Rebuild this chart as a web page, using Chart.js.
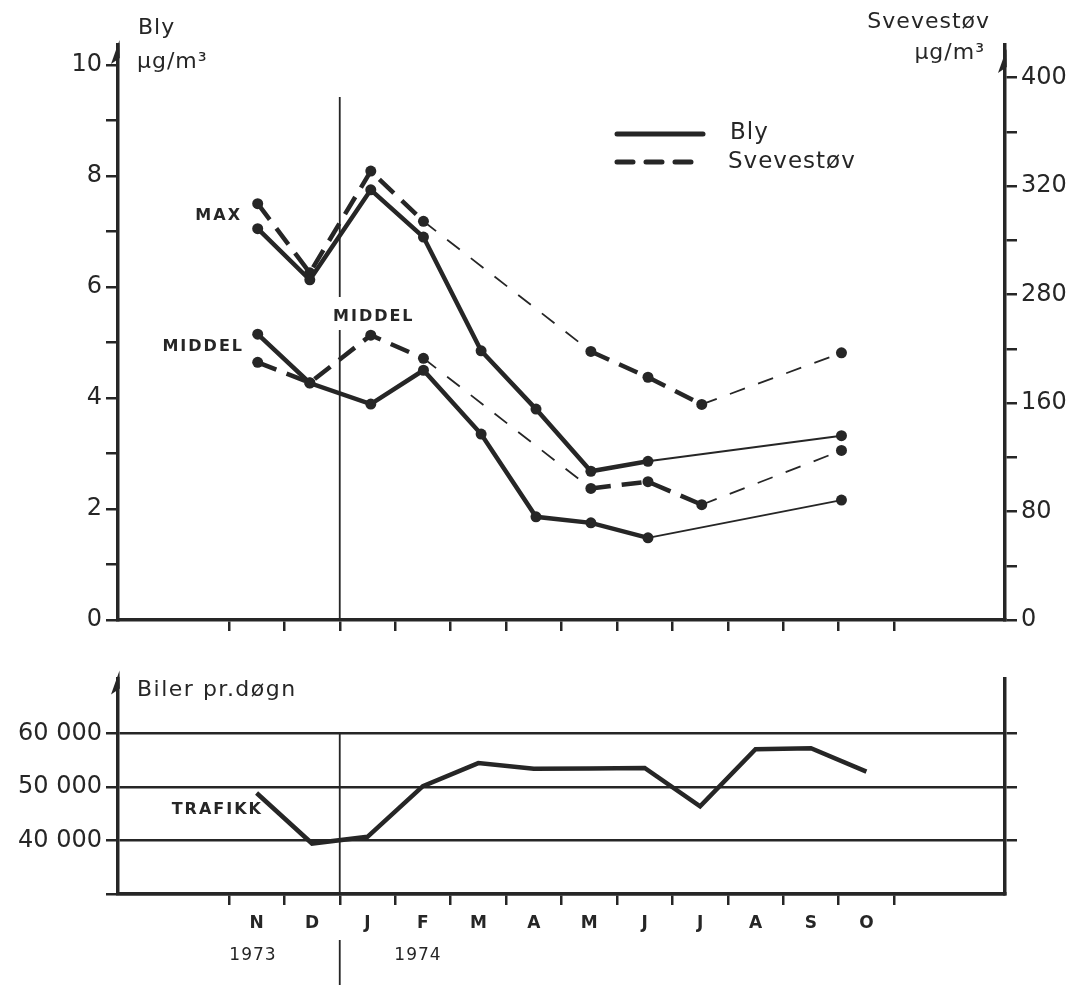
<!DOCTYPE html>
<html>
<head>
<meta charset="utf-8">
<script src="https://cdn.jsdelivr.net/npm/chart.js@4"></script>
<style>
  body { margin: 0; background: #fff; }
  #wrap { position: relative; width: 1080px; height: 985px; }
  canvas { position: absolute; left: 0; }
  #top { top: 0; }
  #bottom { top: 660px; }
</style>
</head>
<body>
<div id="wrap">
  <canvas id="top" width="1080" height="660"></canvas>
  <canvas id="bottom" width="1080" height="325"></canvas>
</div>
<script>
// months counted from the 1973/1974 boundary (0 = 1 Jan 1974)
const months = ['N', 'D', 'J', 'F', 'M', 'A', 'M', 'J', 'J', 'A', 'S', 'O'];
const monthCenters = [-1.5, -0.5, 0.5, 1.5, 2.5, 3.5, 4.5, 5.5, 6.5, 7.5, 8.5, 9.5];
const monthBounds = [-2, -1, 0, 1, 2, 3, 4, 5, 6, 7, 8, 9, 10];

// Bly (lead), ug/m3
const blyX = [-1.48, -0.54, 0.56, 1.51, 2.55, 3.54, 4.53, 5.56, 9.05];
const blyMax = [7.05, 6.13, 7.75, 6.90, 4.85, 3.80, 2.68, 2.86, 3.32];
const blyMiddel = [5.15, 4.27, 3.89, 4.50, 3.35, 1.86, 1.75, 1.48, 2.16];

// Svevestov (suspended dust), ug/m3
const svX = [-1.48, -0.54, 0.56, 1.51, 4.53, 5.56, 6.53, 9.05];
const svMax = [307, 256, 331, 294, 198, 179, 159, 197];
const svMiddel = [190, 175, 210, 193, 97, 102, 85, 125];

// Trafikk, biler pr. dogn
const trafikk = [48900, 39450, 40700, 50200, 54500, 53450, 53500, 53600, 46400, 57100, 57300, 52900];

const blyTicks = [0, 2, 4, 6, 8, 10];
const svTicks = [0, 80, 160, 240, 320, 400];
const svTickLabels = ['0', '80', '160', '280', '320', '400'];
const bilerTicks = [40000, 50000, 60000];
const bilerTickLabels = ['40 000', '50 000', '60 000'];

const ink = '#262626';
const numFont = { family: 'DejaVu Sans', size: 24 };

function pts(xs, ys) {
  return xs.map((x, i) => ({ x: x, y: ys[i] }));
}
// a thin line where months are missing between two points
const gap = c => c.p1.parsed.x - c.p0.parsed.x > 1.6;

function serie(label, xs, ys, axis, dashed) {
  return {
    label: label,
    data: pts(xs, ys),
    yAxisID: axis,
    borderColor: ink,
    backgroundColor: ink,
    borderWidth: 4.5,
    borderDash: dashed ? [20, 11] : [],
    pointRadius: 5.5,
    pointBorderWidth: 0,
    pointBackgroundColor: ink,
    segment: {
      borderWidth: c => gap(c) ? 1.8 : 4.5,
      borderDash: c => dashed ? (gap(c) ? [16, 14] : [20, 11]) : []
    }
  };
}

function xAxis(h) {
  return {
    type: 'linear', min: -4, max: 12,
    afterBuildTicks: s => { s.ticks = monthBounds.map(v => ({ value: v })); },
    ticks: { display: false },
    grid: { drawOnChartArea: false, tickLength: 11, color: ink, lineWidth: 2.5 },
    border: { display: true, color: ink, width: 3.5 },
    afterFit: s => { s.height = h; }
  };
}

// harpoon style arrow head on top of an axis
function arrow(ctx, x, y) {
  ctx.beginPath();
  ctx.moveTo(x + 1.5, y);
  ctx.lineTo(x - 7, y + 24);
  ctx.lineTo(x + 1.8, y + 18);
  ctx.closePath();
  ctx.fill();
}

function txt(ctx, s, x, y, font, align, spacing) {
  ctx.font = font;
  ctx.textAlign = align || 'left';
  ctx.textBaseline = 'middle';
  ctx.letterSpacing = spacing || '0px';
  ctx.fillText(s, x, y);
  ctx.letterSpacing = '0px';
}

const topNotes = {
  id: 'topNotes',
  afterDraw(chart) {
    const ctx = chart.ctx;
    const a = chart.chartArea;
    const x0 = chart.scales.x.getPixelForValue(0);
    ctx.save();
    ctx.fillStyle = ink;
    ctx.strokeStyle = ink;
    arrow(ctx, a.left, a.top - 5);
    arrow(ctx, a.right, a.top + 4);

    // year divider
    ctx.lineWidth = 1.8;
    ctx.beginPath();
    ctx.moveTo(x0, 97); ctx.lineTo(x0, 297);
    ctx.moveTo(x0, 330); ctx.lineTo(x0, a.bottom);
    ctx.stroke();

    // axis titles
    txt(ctx, 'Bly', 138, 28, '22px DejaVu Sans', 'left', '1px');
    txt(ctx, 'μg/m³', 137, 62, '22px DejaVu Sans', 'left', '1px');
    txt(ctx, 'Svevestøv', 990, 22, '22px DejaVu Sans', 'right', '1px');
    txt(ctx, 'μg/m³', 985, 53, '22px DejaVu Sans', 'right', '1px');

    // legend
    ctx.lineWidth = 5;
    ctx.lineCap = 'round';
    ctx.beginPath();
    ctx.moveTo(617, 134); ctx.lineTo(703, 134);
    ctx.stroke();
    ctx.setLineDash([16, 13]);
    ctx.beginPath();
    ctx.moveTo(617, 162); ctx.lineTo(703, 162);
    ctx.stroke();
    ctx.setLineDash([]);
    txt(ctx, 'Bly', 730, 133, '23px DejaVu Sans', 'left', '1px');
    txt(ctx, 'Svevestøv', 728, 162, '23px DejaVu Sans', 'left', '1px');

    // labels
    txt(ctx, 'MAX', 242, 216, 'bold 16px DejaVu Sans', 'right', '2px');
    txt(ctx, 'MIDDEL', 244, 347, 'bold 16px DejaVu Sans', 'right', '2px');
    txt(ctx, 'MIDDEL', 333, 317, 'bold 16px DejaVu Sans', 'left', '2px');
    ctx.restore();
  }
};

const bottomNotes = {
  id: 'bottomNotes',
  afterDraw(chart) {
    const ctx = chart.ctx;
    const a = chart.chartArea;
    const x0 = chart.scales.x.getPixelForValue(0);
    const yTop = chart.scales.y.getPixelForValue(bilerTicks[bilerTicks.length - 1]);
    ctx.save();
    ctx.fillStyle = ink;
    ctx.strokeStyle = ink;
    arrow(ctx, a.left, a.top - 8);

    ctx.lineWidth = 1.8;
    ctx.beginPath();
    ctx.moveTo(x0, yTop); ctx.lineTo(x0, a.bottom);
    ctx.moveTo(x0, 280); ctx.lineTo(x0, 325);
    ctx.stroke();

    txt(ctx, 'Biler pr.døgn', 137, 30, '22px DejaVu Sans', 'left', '1.5px');
    txt(ctx, 'TRAFIKK', 263, 150, 'bold 16px DejaVu Sans', 'right', '2px');
    txt(ctx, '1973', 253, 296, '17px DejaVu Sans', 'center', '1px');
    txt(ctx, '1974', 418, 296, '17px DejaVu Sans', 'center', '1px');
    ctx.restore();
  }
};

new Chart(document.getElementById('top'), {
  type: 'line',
  data: {
    datasets: [
      serie('Bly MAX', blyX, blyMax, 'y', false),
      serie('Bly MIDDEL', blyX, blyMiddel, 'y', false),
      serie('Svevestøv MAX', svX, svMax, 'y2', true),
      serie('Svevestøv MIDDEL', svX, svMiddel, 'y2', true)
    ]
  },
  options: {
    responsive: false,
    animation: false,
    layout: { padding: { top: 45, left: 0, right: 0, bottom: 0 } },
    plugins: { legend: { display: false }, tooltip: { enabled: false } },
    scales: {
      x: xAxis(40),
      y: {
        position: 'left', min: 0, max: 10.36,
        afterBuildTicks: s => {
          s.ticks = [];
          for (let v = 0; v <= 10; v++) s.ticks.push({ value: v });
        },
        ticks: {
          callback: v => blyTicks.includes(v) ? String(v) : '',
          color: ink, font: numFont, padding: 4
        },
        grid: { drawOnChartArea: false, tickLength: 12, color: ink, lineWidth: 2.5 },
        border: { color: ink, width: 3.5 },
        afterFit: s => { s.width = 118; }
      },
      y2: {
        position: 'right', min: 0, max: 424,
        afterBuildTicks: s => {
          s.ticks = [];
          for (let v = 0; v <= 400; v += 40) s.ticks.push({ value: v });
        },
        ticks: {
          callback: v => {
            const i = svTicks.indexOf(v);
            return i < 0 ? '' : svTickLabels[i];
          },
          color: ink, font: numFont, padding: 4
        },
        grid: { drawOnChartArea: false, tickLength: 12, color: ink, lineWidth: 2.5 },
        border: { color: ink, width: 3.5 },
        afterFit: s => { s.width = 75; }
      }
    }
  },
  plugins: [topNotes]
});

new Chart(document.getElementById('bottom'), {
  type: 'line',
  data: {
    datasets: [{
      label: 'Trafikk',
      data: pts(monthCenters, trafikk),
      borderColor: ink,
      borderWidth: 4.5,
      pointRadius: 0,
      borderJoinStyle: 'miter'
    }]
  },
  options: {
    responsive: false,
    animation: false,
    layout: { padding: { top: 12, left: 0, right: 0, bottom: 0 } },
    plugins: { legend: { display: false }, tooltip: { enabled: false } },
    scales: {
      x: xAxis(14),
      xm: {
        type: 'linear', position: 'bottom', min: -4, max: 12,
        afterBuildTicks: s => { s.ticks = monthCenters.map(v => ({ value: v })); },
        ticks: {
          callback: (v, i) => months[i],
          color: ink, font: { family: 'DejaVu Sans', size: 17, weight: 'bold' },
          padding: 5, maxRotation: 0, autoSkip: false
        },
        grid: { display: false, drawTicks: false },
        border: { display: false },
        afterFit: s => { s.height = 77; }
      },
      y: {
        position: 'left', min: 30000, max: 70360,
        afterBuildTicks: s => { s.ticks = [30000].concat(bilerTicks).map(v => ({ value: v })); },
        ticks: {
          callback: v => {
            const i = bilerTicks.indexOf(v);
            return i < 0 ? '' : bilerTickLabels[i];
          },
          color: ink, font: numFont, padding: 4
        },
        grid: { drawOnChartArea: true, tickLength: 12, color: ink, lineWidth: 2.5 },
        border: { color: ink, width: 3.5 },
        afterFit: s => { s.width = 118; }
      },
      y2: {
        position: 'right', min: 30000, max: 70360,
        afterBuildTicks: s => { s.ticks = bilerTicks.map(v => ({ value: v })); },
        ticks: { display: false },
        grid: { drawOnChartArea: false, tickLength: 12, color: ink, lineWidth: 2.5 },
        border: { color: ink, width: 3.5 },
        afterFit: s => { s.width = 75; }
      }
    }
  },
  plugins: [bottomNotes]
});
</script>
</body>
</html>
